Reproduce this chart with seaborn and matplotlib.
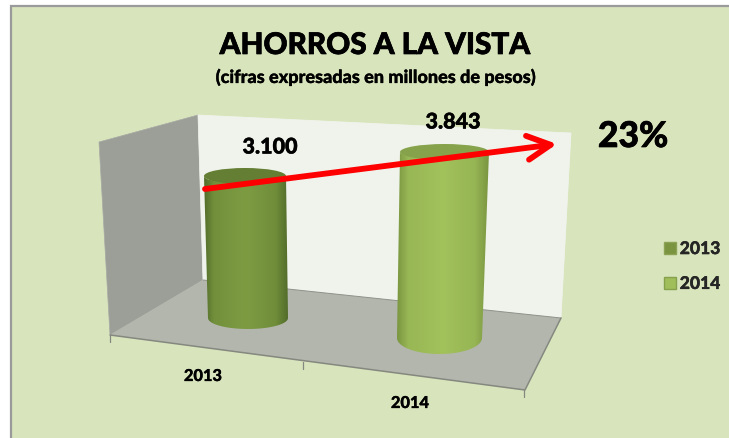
import numpy as np
import pandas as pd
import matplotlib
matplotlib.use('Agg')
import matplotlib.pyplot as plt
import seaborn as sns
from matplotlib.colors import to_rgb
from matplotlib.patches import Patch, PathPatch, Polygon, Ellipse, Rectangle
from matplotlib.path import Path
from matplotlib import patheffects as pe

years = ['2013', '2014']
ahorros = [3100, 3843]
etiquetas = ['3.100', '3.843']
crecimiento = '23%'

W, H = 729, 438
FONDO = '#D8E4BC'

sns.set_theme(style='white')
plt.rcParams['font.family'] = ['Lato', 'DejaVu Sans']

fig = plt.figure(figsize=(W / 100, H / 100), dpi=100, facecolor='white')


def capa(z):
    # eje en pixeles de la imagen, para la caja 3D y los textos
    a = fig.add_axes([0, 0, 1, 1], zorder=z)
    a.set_xlim(0, W)
    a.set_ylim(H, 0)
    a.axis('off')
    a.patch.set_alpha(0)
    return a


def texto(x, y, s, size, grueso=0.35):
    t = frente.text(x, y, s, ha='center', va='center', fontsize=size, fontweight='black', color='black')
    t.set_path_effects([pe.withStroke(linewidth=grueso, foreground='black')])
    return t


fondo = capa(0)
frente = capa(5)

fondo.add_patch(Rectangle((11, 6), W, H, fc=FONDO, ec='#9A9A9A', lw=1.6))

# paredes y piso
fondo.add_patch(Polygon([(99, 142), (198, 115), (203, 280), (110, 335)], fc='#9C9E98', ec='#A8AAA4', lw=0.5))
fondo.add_patch(Polygon([(198, 115), (571, 133), (561, 318), (203, 280)], fc='#EFF3EC', ec='#F2F5EF', lw=0.5))
fondo.add_patch(Polygon([(203, 280), (561, 318), (525, 390), (110, 335)], fc='#B3B6AD', ec='none'))
fondo.plot([203, 561], [280, 318], color='#8F928A', lw=0.7)
fondo.plot([561, 525, 110], [318, 390, 335], color='#85887F', lw=1.1)
for x0, y0 in [(110, 335), (303, 362), (524, 390)]:
    fondo.plot([x0, x0], [y0, y0 + 7], color='#85887F', lw=0.9)

# cada barra va en su propio eje: la perspectiva cambia la base y la escala
cajas = [
    dict(x0=208, x1=286, base=318, px=142 / 3100),
    dict(x0=400, x1=482, base=338, px=186 / 3843),
]
# bordes del cilindro en pixeles: arriba izq/der, abajo izq/der
bordes = [(204, 286, 208, 288), (400, 489, 397, 482)]
radios = [(8, 11), (8, 16)]
tonos = [('#536D2A', '#7D9C42', '#647E33'), ('#7A9640', '#A2C25C', '#86A34C')]

for i, caja in enumerate(cajas):
    alto = 4200 * caja['px']
    ax = fig.add_axes([caja['x0'] / W, 1 - caja['base'] / H, (caja['x1'] - caja['x0']) / W, alto / H], zorder=1)
    df = pd.DataFrame({'year': [years[i]], 'ahorro': [ahorros[i]]})
    sns.barplot(data=df, x='year', y='ahorro', width=1, color=tonos[i][1], ax=ax, saturation=1)
    ax.set_xlim(-0.5, 0.5)
    ax.set_ylim(0, 4200)
    ax.axis('off')

    # la parte alta de la barra, pasada a pixeles, fija el cilindro
    barra = ax.patches[0]
    pt = ax.transData.transform((0, barra.get_height()))
    y_top = frente.transData.inverted().transform(pt)[1]
    y_base = caja['base']
    tl, tr, bl, br = bordes[i]
    ry_t, ry_b = radios[i]

    t = np.linspace(0, np.pi, 40)
    bx = (bl + br) / 2 + (br - bl) / 2 * np.cos(t)
    by = y_base + ry_b * np.sin(t)
    tx = (tl + tr) / 2 - (tr - tl) / 2 * np.cos(t)
    ty = y_top + ry_t * np.sin(t)
    cuerpo = Path(np.vstack([np.c_[tx, ty], np.c_[bx, by], [tx[0], ty[0]]]))

    borde = np.array(to_rgb(tonos[i][0]))
    medio = np.array(to_rgb(tonos[i][1]))
    u = np.linspace(0, 1, 256)
    perfil = np.interp(u, [0, 0.12, 0.5, 0.85, 1], [0, 0.75, 1, 0.7, 0])[:, None]
    grad = (borde + (medio - borde) * perfil)[None, :, :]
    im = frente.imshow(grad, extent=[min(tl, bl), max(tr, br), y_base + ry_b, y_top - ry_t],
                       aspect='auto', interpolation='bilinear', zorder=2)
    im.set_clip_path(PathPatch(cuerpo, transform=frente.transData))
    frente.add_patch(Ellipse(((tl + tr) / 2, y_top), tr - tl, 2 * ry_t, fc=tonos[i][2], ec='none', zorder=3))
    frente.set_xlim(0, W)
    frente.set_ylim(H, 0)

# flecha de crecimiento
frente.annotate('', xy=(557, 144), xytext=(205, 189), zorder=6,
                arrowprops=dict(arrowstyle='->,head_length=1.4,head_width=0.72', color='#FF0000',
                                lw=4.2, shrinkA=0, shrinkB=0))

texto(375, 45, 'AHORROS A LA VISTA', 21.4, 0.5)
texto(375, 77, '(cifras expresadas en millones de pesos)', 13, 0.2)
texto(270, 147, etiquetas[0], 15.5)
texto(453, 122, etiquetas[1], 15.5)
texto(633, 137, crecimiento, 25.5, 0.5)
texto(203, 376, years[0], 11.8, 0.2)
texto(410, 403, years[1], 11.8, 0.2)

manejadores = [Patch(fc='#7A9440', ec='#8CA255', label=years[0]), Patch(fc='#A0BF5A', ec='#86A04C', label=years[1])]
leg = frente.legend(handles=manejadores, loc='center left', bbox_to_anchor=(664 / W, 1 - 266.5 / H), frameon=False,
                    handlelength=0.68, handleheight=0.68, handletextpad=0.22, labelspacing=1.08,
                    prop=dict(size=12.6, weight='black', family='Lato'), borderpad=0, borderaxespad=0)
for t in leg.get_texts():
    t.set_path_effects([pe.withStroke(linewidth=0.2, foreground='black')])

fig.savefig('out.png', dpi=100)
